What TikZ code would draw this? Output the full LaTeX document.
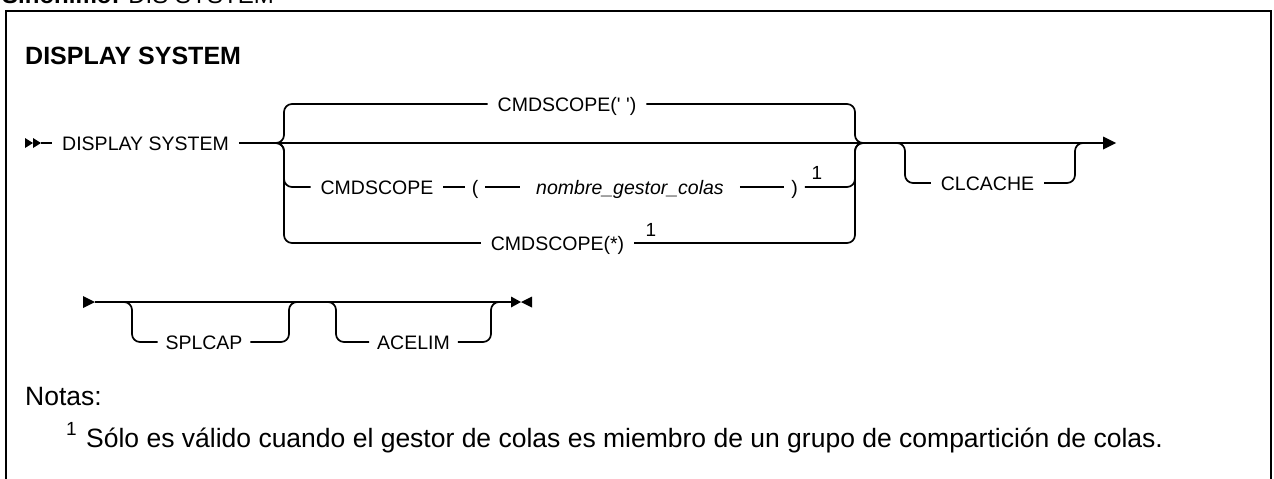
\documentclass[tikz,border=0pt]{standalone}
\usepackage{fontspec}
\setmainfont{Liberation Sans}
\begin{document}
\begin{tikzpicture}[x=1pt,y=-1pt,
  rail/.style={line width=1.7pt, line cap=butt},
  branch/.style={rail, rounded corners=8pt},
  lbl/.style={inner xsep=10pt, inner ysep=0pt, outer sep=0pt, text height=14pt, text depth=0pt, font=\fontsize{19.5}{22}\selectfont},
  supnum/.style={inner sep=0pt, font=\fontsize{19}{22}\selectfont},
  tip/.style={fill=black, draw=none}]
\useasboundingbox (0,0) rectangle (1274,479);
\clip (0,0) rectangle (1274,479);
% frame and headings
\draw[line width=2.4pt] (6,500) -- (6,11) -- (1271,11) -- (1271,500);
\node[anchor=base west, inner sep=0pt, font=\fontsize{24}{28}\selectfont] (syn) at (2,3) {\textbf{Sinónimo:} DIS SYSTEM};
\node[anchor=base west, inner sep=0pt, font=\fontsize{25}{30}\selectfont\bfseries] (title) at (25,64) {DISPLAY SYSTEM};
% ---------- first rail ----------
\coordinate (st) at (41,143);
\fill[tip] (25,138) -- (33,143) -- (25,148) -- cycle;
\fill[tip] (33,138) -- (41,143) -- (33,148) -- cycle;
\node[lbl] (ds) at (145.5,143) {DISPLAY SYSTEM};
\draw[rail] (st) -- (ds.west);
\coordinate (e1) at (1103,143);
\draw[rail] (ds.east) -- (e1);
\fill[tip] (e1) ++(0,-6.5) -- ++(13,6.5) -- ++(-13,6.5) -- cycle;
% choice group
\coordinate (jl0) at (276,143);
\coordinate (jl) at (284,143);
\coordinate (jr) at (855,143);
\coordinate (jr2) at (863,143);
\node[lbl] (c1) at (567,104) {CMDSCOPE(\textquotesingle\ \textquotesingle)};
\node[lbl] (c2) at (377,187) {CMDSCOPE};
\node[lbl, inner xsep=7pt] (lp) at (475,187) {(};
\node[lbl, inner xsep=16pt, font=\fontsize{19.5}{22}\selectfont\itshape] (ng) at (630,187) {nombre\_gestor\_colas};
\node[lbl, inner xsep=7pt] (rp) at (794.5,187) {)};
\node[supnum] (s1) at (817,173) {1};
\node[lbl] (c3) at (557.5,243) {CMDSCOPE(*)};
\node[supnum] (s2) at (651,230) {1};
\draw[branch] (jl0) -- (jl) |- (c1.west);
\draw[branch] (c1.east) -| (jr) -- (jr2);
\draw[branch] (jl0) -- (jl) |- (c2.west);
\draw[rail] (c2.east) -- (lp.west);
\draw[rail] (lp.east) -- (ng.west);
\draw[rail] (ng.east) -- (rp.west);
\draw[branch] (rp.east) -| (jr) -- (jr2);
\draw[branch] (jl0) -- (jl) |- (c3.west);
\draw[branch] (c3.east) -| (jr) -- (jr2);
% optional CLCACHE
\coordinate (k0) at (897,143);
\coordinate (k1) at (905,143);
\coordinate (k2) at (1075,143);
\coordinate (k3) at (1083,143);
\node[lbl] (cl) at (987.5,183) {CLCACHE};
\draw[branch] (k0) -- (k1) |- (cl.west);
\draw[branch] (cl.east) -| (k2) -- (k3);
% ---------- second rail ----------
\coordinate (s0) at (95,302);
\fill[tip] (83,296) -- (95,302) -- (83,308) -- cycle;
\coordinate (e2) at (511,302);
\draw[rail] (s0) -- (e2);
\fill[tip] (511,296.5) -- (521,302) -- (511,307.5) -- cycle;
\fill[tip] (532,296.5) -- (521,302) -- (532,307.5) -- cycle;
\coordinate (p0) at (124,302);
\coordinate (p1) at (132,302);
\coordinate (p2) at (289,302);
\coordinate (p3) at (297,302);
\node[lbl, inner xsep=8pt] (sp) at (204,342) {SPLCAP};
\draw[branch] (p0) -- (p1) |- (sp.west);
\draw[branch] (sp.east) -| (p2) -- (p3);
\coordinate (a0) at (328,302);
\coordinate (a1) at (336,302);
\coordinate (a2) at (491,302);
\coordinate (a3) at (499,302);
\node[lbl, inner xsep=8pt] (ac) at (413.5,342) {ACELIM};
\draw[branch] (a0) -- (a1) |- (ac.west);
\draw[branch] (ac.east) -| (a2) -- (a3);
% ---------- notes ----------
\node[anchor=base west, inner sep=0pt, font=\fontsize{26.5}{30}\selectfont] (notas) at (25,405) {Notas:};
\node[anchor=base west, inner sep=0pt, font=\fontsize{19}{22}\selectfont] (fn1) at (66,435) {1};
\node[anchor=base west, inner sep=0pt, font=\fontsize{26.5}{30}\selectfont] (fn) at (86,447) {Sólo es válido cuando el gestor de colas es miembro de un grupo de compartición de colas.};
\end{tikzpicture}
\end{document}
